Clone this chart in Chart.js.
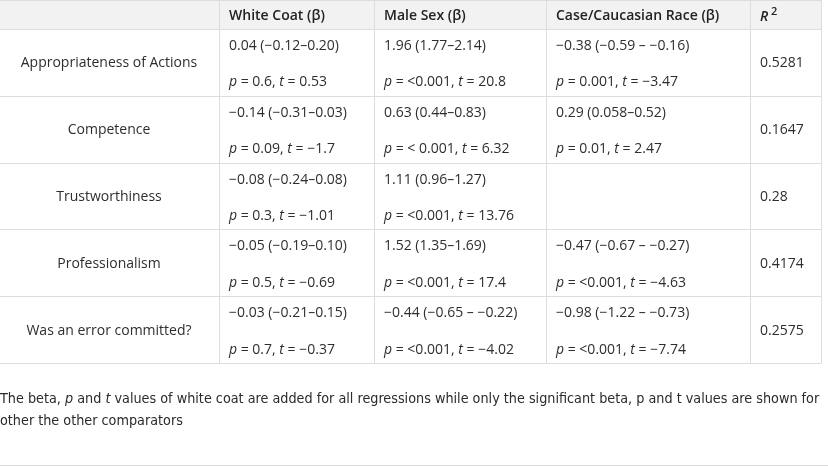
<!DOCTYPE html>
<html>
<head>
<meta charset="utf-8">
<script src="https://cdn.jsdelivr.net/npm/chart.js@4.4.1/dist/chart.umd.min.js"></script>
<style>
  body { margin: 0; background: #fff; }
  #wrap { position: relative; width: 828px; height: 467px; }
  #note {
    position: absolute; left: 0; top: 387px; width: 828px;
    font-family: "Liberation Sans Narrow", "DejaVu Sans Condensed", "Open Sans", sans-serif;
    font-stretch: condensed;
    font-size: 14.25px; line-height: 22px; color: #2b2b2b;
  }
  #rule { position: absolute; left: 0; top: 465px; width: 828px; border-top: 1px solid #ddd; }
</style>
</head>
<body>
<div id="wrap">
  <canvas id="tableChart" width="828" height="467"></canvas>
  <div id="note">The beta, <i>p</i> and <i>t</i> values of white coat are added for all regressions while only the significant beta, p and t values are shown for other the other comparators</div>
  <div id="rule"></div>
</div>
<script>
// table contents
const outcomes = ['Appropriateness of Actions', 'Competence', 'Trustworthiness', 'Professionalism', 'Was an error committed?'];
const columnTitles = ['White Coat (β)', 'Male Sex (β)', 'Case/Caucasian Race (β)'];

const whiteCoatBeta = ['0.04 (−0.12–0.20)', '−0.14 (−0.31–0.03)', '−0.08 (−0.24–0.08)', '−0.05 (−0.19–0.10)', '−0.03 (−0.21–0.15)'];
const whiteCoatP = ['0.6', '0.09', '0.3', '0.5', '0.7'];
const whiteCoatT = [0.53, -1.7, -1.01, -0.69, -0.37];

const maleSexBeta = ['1.96 (1.77–2.14)', '0.63 (0.44–0.83)', '1.11 (0.96–1.27)', '1.52 (1.35–1.69)', '−0.44 (−0.65 – −0.22)'];
const maleSexP = ['<0.001', '< 0.001', '<0.001', '<0.001', '<0.001'];
const maleSexT = [20.8, 6.32, 13.76, 17.4, -4.02];

const raceBeta = ['−0.38 (−0.59 – −0.16)', '0.29 (0.058–0.52)', null, '−0.47 (−0.67 – −0.27)', '−0.98 (−1.22 – −0.73)'];
const raceP = ['0.001', '0.01', null, '<0.001', '<0.001'];
const raceT = [-3.47, 2.47, null, -4.63, -7.74];

const rSquared = [0.5281, 0.1647, 0.28, 0.4174, 0.2575];

// layout (x scale units) of column borders
const colEdges = [-1, 219, 374, 546, 750, 821];
const textColor = '#2e2e2e';
const gridColor = '#dddddd';
const FONT = '"Open Sans", sans-serif';

const columns = [
    { beta: whiteCoatBeta, p: whiteCoatP, t: whiteCoatT },
    { beta: maleSexBeta, p: maleSexP, t: maleSexT },
    { beta: raceBeta, p: raceP, t: raceT }
];

function fmt(v) {
    return String(v).replace('-', '−');
}

// draw a line made of normal / italic pieces
function drawRuns(ctx, runs, x, y) {
    runs.forEach(run => {
        ctx.font = (run.bold ? '600 ' : '') + (run.italic ? 'italic ' : '') + (run.size || 14) + 'px ' + FONT;
        ctx.fillText(run.text, x, y + (run.dy || 0));
        x += ctx.measureText(run.text).width;
    });
}

const tablePlugin = {
    id: 'tablePlugin',
    afterDraw(chart) {
        const ctx = chart.ctx;
        const xs = chart.scales.x;
        const ys = chart.scales.y;
        const area = chart.chartArea;
        const left = xs.getPixelForValue(colEdges[0]);
        const right = xs.getPixelForValue(colEdges[colEdges.length - 1]);

        ctx.save();
        // header background
        ctx.fillStyle = '#f2f2f2';
        ctx.fillRect(left, 0, right - left, area.top);

        // grid lines
        ctx.strokeStyle = gridColor;
        ctx.lineWidth = 1;
        ctx.beginPath();
        ctx.moveTo(left, 0.5); ctx.lineTo(right, 0.5);
        for (let i = 0; i <= outcomes.length; i++) {
            const y = Math.round(ys.getPixelForValue(i - 0.5)) + 0.5;
            ctx.moveTo(left, y); ctx.lineTo(right, y);
        }
        colEdges.forEach(e => {
            const x = Math.round(xs.getPixelForValue(e)) + 0.5;
            ctx.moveTo(x, 0); ctx.lineTo(x, Math.round(ys.getPixelForValue(outcomes.length - 0.5)) + 0.5);
        });
        ctx.stroke();

        ctx.textBaseline = 'alphabetic';

        // header row
        ctx.fillStyle = '#222';
        columnTitles.forEach((title, c) => {
            drawRuns(ctx, [{ text: title, bold: true }], xs.getPixelForValue(colEdges[c + 1]) + 10, 20);
        });
        drawRuns(ctx, [{ text: 'R', bold: true, italic: true }, { text: ' 2', bold: true, size: 11, dy: -6 }],
            xs.getPixelForValue(colEdges[4]) + 10, 21);

        ctx.fillStyle = textColor;
        outcomes.forEach((name, i) => {
            const top = ys.getPixelForValue(i - 0.5);
            const bottom = ys.getPixelForValue(i + 0.5);
            const mid = ys.getPixelForValue(i);

            // outcome label centred in first column
            ctx.font = '14px ' + FONT;
            ctx.textAlign = 'center';
            ctx.fillText(name, (xs.getPixelForValue(colEdges[0]) + xs.getPixelForValue(colEdges[1])) / 2, mid + 5);
            ctx.textAlign = 'left';

            columns.forEach((col, c) => {
                if (col.beta[i] == null) return;
                const x = xs.getPixelForValue(colEdges[c + 1]) + 10;
                drawRuns(ctx, [{ text: col.beta[i] }], x, top + 21);
                drawRuns(ctx, [
                    { text: 'p', italic: true },
                    { text: ' = ' + col.p[i] + ', ' },
                    { text: 't', italic: true },
                    { text: ' = ' + fmt(col.t[i]) }
                ], x, bottom - 9.5);
            });

            drawRuns(ctx, [{ text: String(rSquared[i]) }], xs.getPixelForValue(colEdges[4]) + 10, mid + 5);
        });
        ctx.restore();
    }
};

new Chart(document.getElementById('tableChart'), {
    type: 'scatter',
    data: {
        labels: outcomes,
        datasets: []
    },
    options: {
        responsive: false,
        animation: false,
        devicePixelRatio: 1,
        layout: { padding: { top: 29, bottom: 104, left: 0, right: 0 } },
        plugins: { legend: { display: false }, tooltip: { enabled: false } },
        scales: {
            x: { type: 'linear', min: 0, max: 828, display: false },
            y: { type: 'category', labels: outcomes, offset: true, display: false }
        }
    },
    plugins: [tablePlugin]
});
</script>
</body>
</html>
